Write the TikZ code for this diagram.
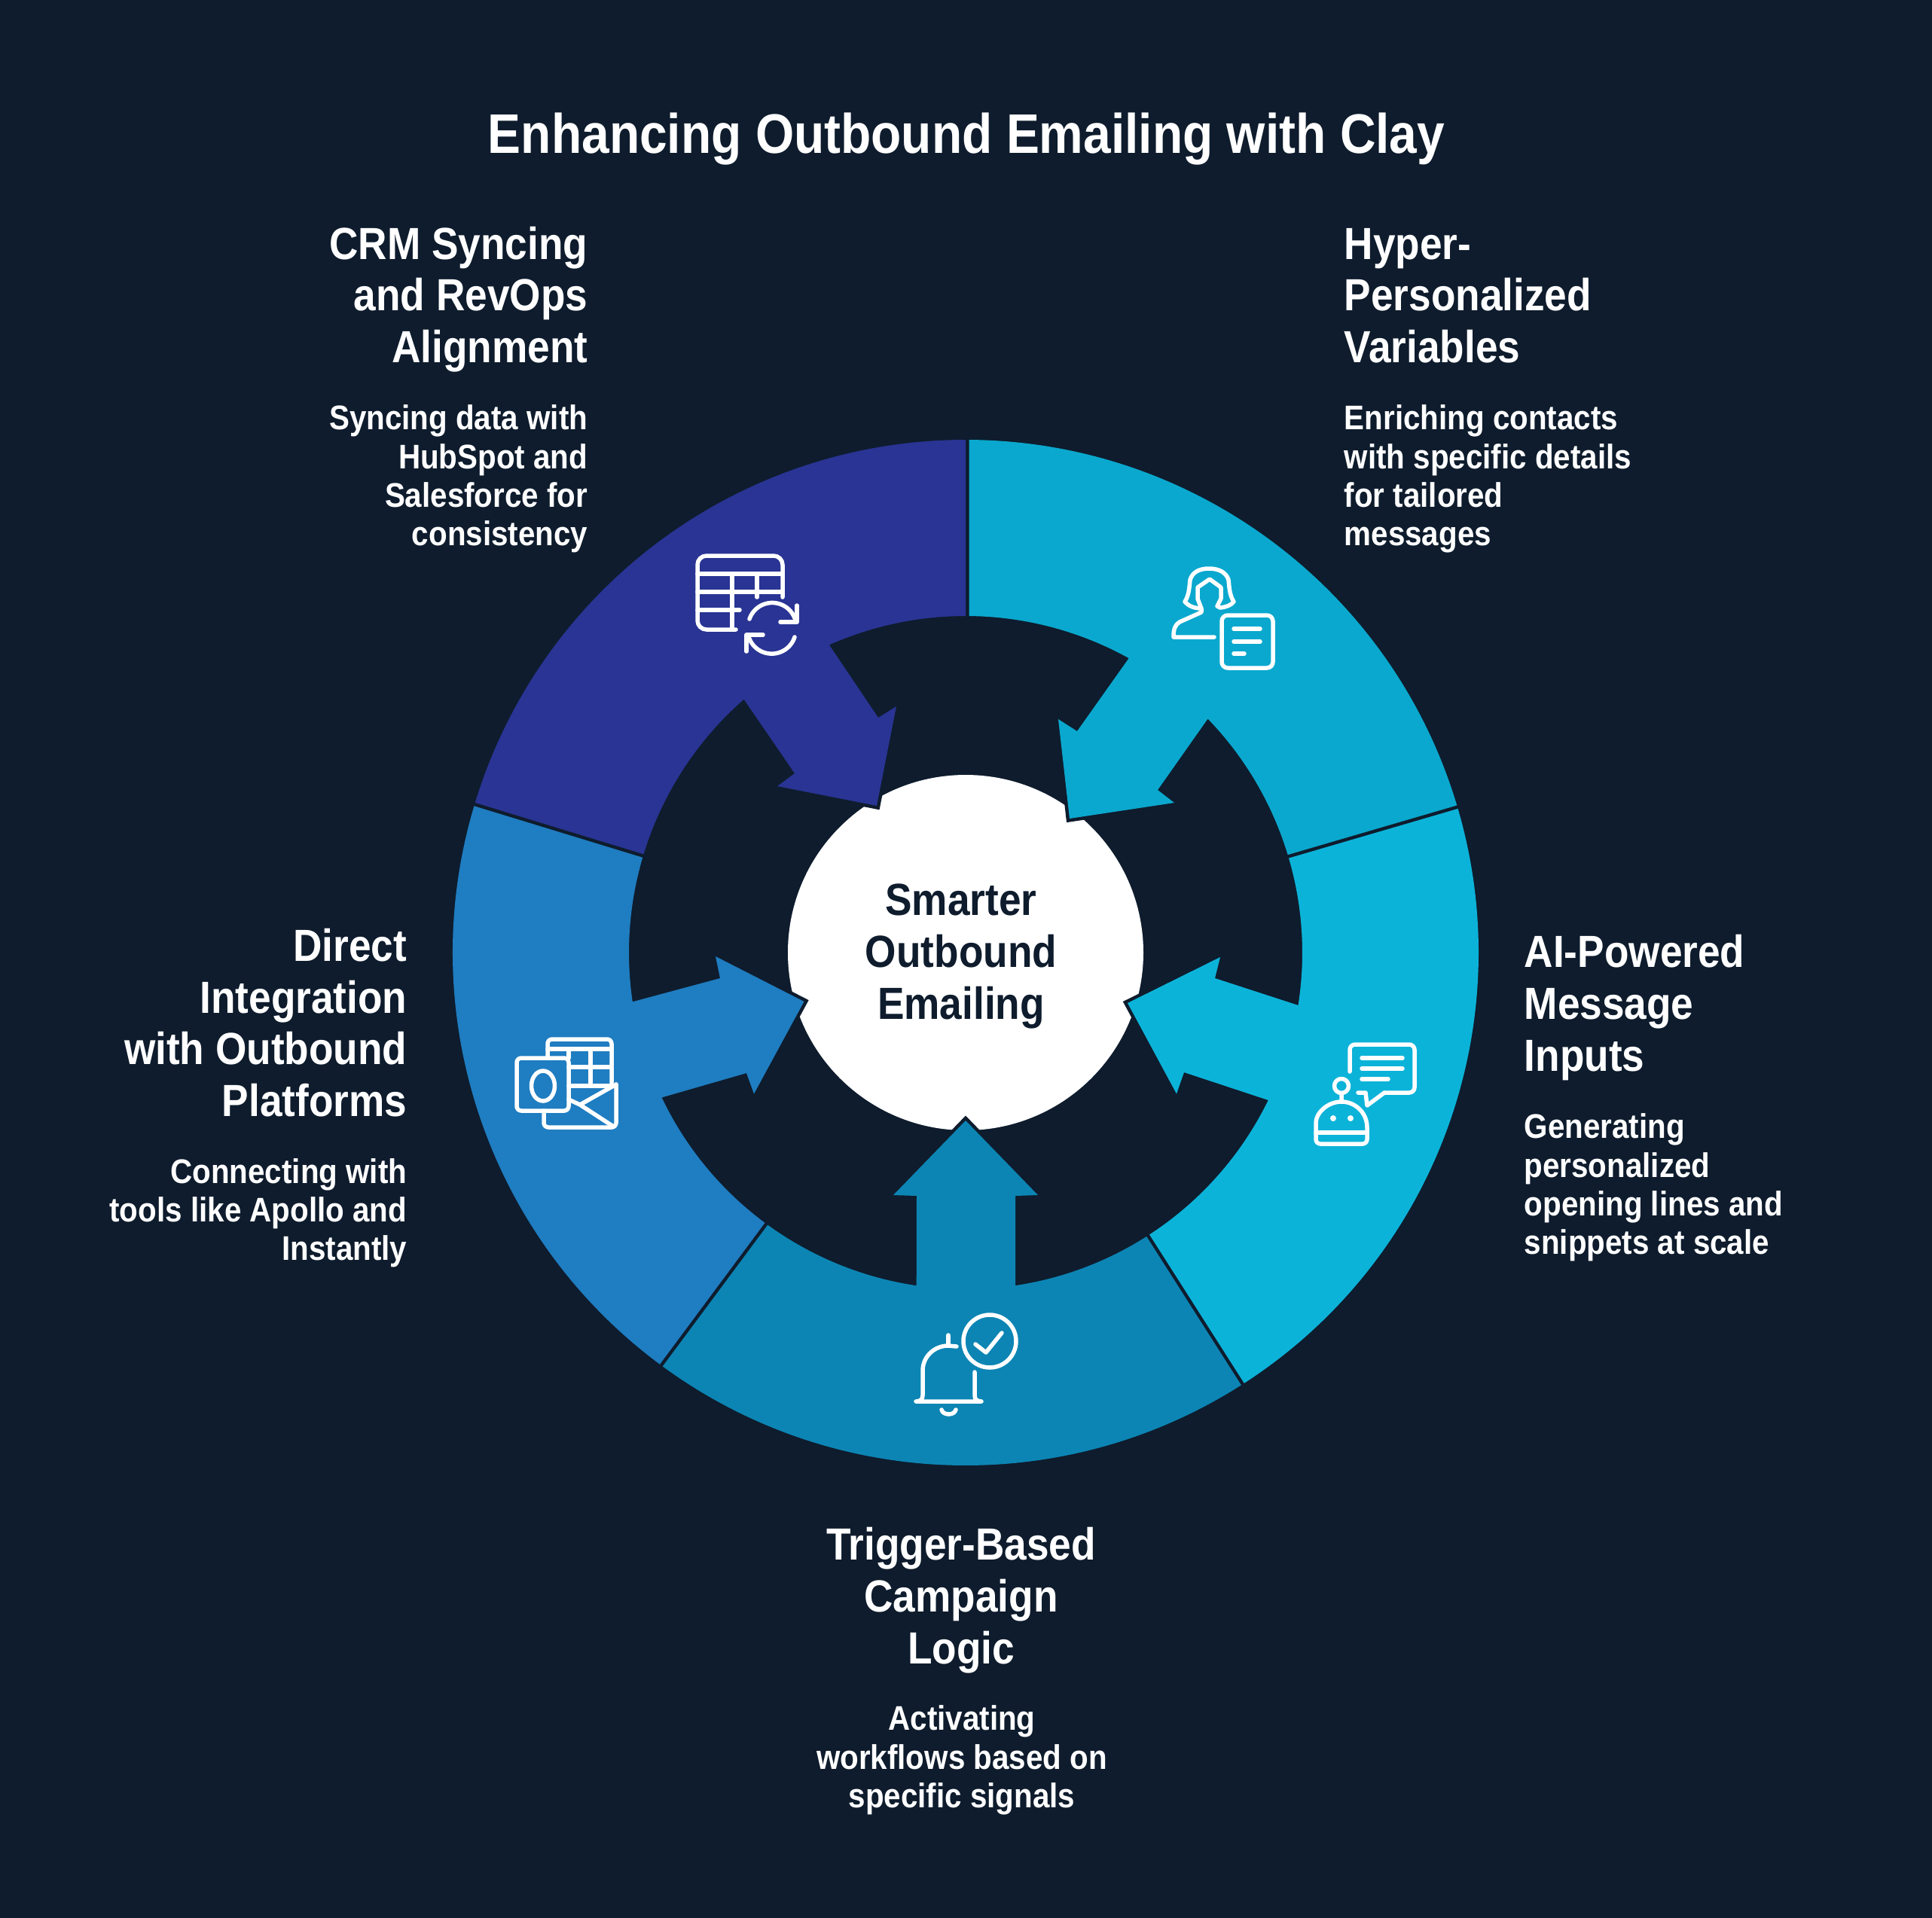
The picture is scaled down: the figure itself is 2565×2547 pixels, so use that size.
\documentclass[tikz,border=0pt]{standalone}
\usepackage{fontspec}
\setmainfont{Liberation Sans}[FakeStretch=0.89]
\definecolor{bgcol}{RGB}{14,28,45}
\definecolor{segsky}{RGB}{10,168,206}
\definecolor{segcyan}{RGB}{12,179,217}
\definecolor{segteal}{RGB}{12,133,180}
\definecolor{segblue}{RGB}{31,125,193}
\definecolor{segnavy}{RGB}{41,52,148}

\begin{document}
\begin{tikzpicture}[x=0.01cm, y=-0.01cm,
    seg/.style = {preaction={draw=bgcol,line width=0.09cm}},
    icon/.style = {draw=white,line width=0.055cm,line cap=round,line join=round},
    title/.style = {white,inner sep=0,font=\fontsize{21.05}{26}\selectfont\bfseries},
    head/.style = {white,inner sep=0,font=\fontsize{17}{19.55}\selectfont\bfseries},
    desc/.style = {white,inner sep=0,font=\fontsize{12.9}{14.57}\selectfont\bfseries},
    hub/.style = {circle,fill=white,inner sep=0,minimum size=0.01cm*472}]
    \fill[bgcol] (0,0) rectangle (2565,2547);
    \node[title] (title) at (1283,185) {Enhancing Outbound Emailing with Clay};

    \node[hub] (hub) at (1282,1265) {};

    \begin{scope}[shift={(1282,1265)}]
        \fill[seg,segsky] (-90:681) arc[start angle=-90,end angle=-16.3,radius=681]
            -- (-16.3:447) arc[start angle=-16.3,end angle=-44,radius=447]
            -- (255,-216) -- (277,-199) -- (138,-178) -- (123,-310) -- (148,-294)
            -- (-61:447) arc[start angle=-61,end angle=-90,radius=447] -- cycle;
        \fill[seg,segcyan] (-16.3:681) arc[start angle=-16.3,end angle=57.5,radius=681]
            -- (57.5:447) arc[start angle=57.5,end angle=26,radius=447]
            -- (290,159) -- (280,187.5) -- (215,67) -- (338,6) -- (331,34)
            -- (9:447) arc[start angle=9,end angle=-16.3,radius=447] -- cycle;
        \fill[seg,segteal] (57.5:681) arc[start angle=57.5,end angle=126.6,radius=681]
            -- (126.6:447) arc[start angle=126.6,end angle=98.4,radius=447]
            -- (-65,323) -- (-96,322) -- (0,223) -- (96,322) -- (66,323)
            -- (81.5:447) arc[start angle=81.5,end angle=57.5,radius=447] -- cycle;
        \fill[seg,segblue] (126.6:681) arc[start angle=126.6,end angle=197,radius=681]
            -- (197:447) arc[start angle=197,end angle=171.6,radius=447]
            -- (-326,34) -- (-332,5) -- (-214.5,65) -- (-281,187.5) -- (-291,160)
            -- (154.5:447) arc[start angle=154.5,end angle=126.6,radius=447] -- cycle;
        \fill[seg,segnavy] (197:681) arc[start angle=197,end angle=270,radius=681]
            -- (270:447) arc[start angle=270,end angle=246.1,radius=447]
            -- (-116,-312) -- (-92,-327) -- (-118,-195) -- (-250,-221) -- (-227,-238)
            -- (228.8:447) arc[start angle=228.8,end angle=197,radius=447] -- cycle;
    \end{scope}

    \node[head,text=bgcol,align=center] (hubtext) at (1276,1270) {Smarter\\Outbound\\Emailing};

    \node[head,anchor=east,align=right] (crmhead) at (781,397.6) {CRM Syncing\\and RevOps\\Alignment};
    \node[desc,anchor=east,align=right] (crmdesc) at (781,636) {Syncing data with\\HubSpot and\\Salesforce for\\consistency};
    \node[head,anchor=west,align=left] (hyperhead) at (1784,392.6) {Hyper-\\Personalized\\Variables};
    \node[desc,anchor=west,align=left] (hyperdesc) at (1784,636) {Enriching contacts\\with specific details\\for tailored\\messages};
    \node[head,anchor=west,align=left] (aihead) at (2023,1338) {AI-Powered\\Message\\Inputs};
    \node[desc,anchor=west,align=left] (aidesc) at (2023,1577) {Generating\\personalized\\opening lines and\\snippets at scale};
    \node[head,align=center] (triggerhead) at (1276,2125) {Trigger-Based\\Campaign\\Logic};
    \node[desc,align=center] (triggerdesc) at (1277,2337.5) {Activating\\workflows based on\\specific signals};
    \node[head,anchor=east,align=right] (directhead) at (541,1358) {Direct\\Integration\\with Outbound\\Platforms};
    \node[desc,anchor=east,align=right] (directdesc) at (541,1611) {Connecting with\\tools like Apollo and\\Instantly};

    % table with refresh arrows
    \draw[icon,rounded corners=0.12cm] (1039,793) -- (1039,738) -- (926,738) -- (926,836) -- (977,836);
    \draw[icon] (926,762) -- (1039,762) (926,786) -- (1039,786) (926,810) -- (982,810);
    \draw[icon] (972,762) -- (972,836) (1005,762) -- (1005,793);
    \draw[icon] (995,822) arc[start angle=199,end angle=348,radius=32];
    \draw[icon] (1058,804) -- (1058,826) -- (1036,826);
    \draw[icon] (1055,846) arc[start angle=18,end angle=159,radius=32];
    \draw[icon] (991,865) -- (991,843) -- (1013,843);

    % person with document
    \draw[icon] (1612,846) -- (1558,846) .. controls (1558,835) and (1560,830) .. (1566,826)
        -- (1595,813) -- (1595,808) -- (1590,795) -- (1590,780) -- (1606,769) -- (1621,780)
        -- (1621,795) -- (1616,805) -- (1620,807) .. controls (1628,806) and (1634,804) .. (1638,799)
        .. controls (1632,790) and (1632,778) .. (1631,770)
        .. controls (1628,760) and (1618,755) .. (1605,755)
        .. controls (1592,755) and (1583,760) .. (1580,770)
        .. controls (1579,778) and (1579,790) .. (1573,799)
        .. controls (1577,804) and (1585,808) .. (1595,808);
    \draw[icon,rounded corners=0.08cm] (1622,817) rectangle (1690,887);
    \draw[icon] (1638,835) -- (1673,835) (1638,852) -- (1673,852) (1638,868) -- (1652,868);

    % robot with speech bubble
    \draw[icon,rounded corners=0.07cm] (1792,1423) -- (1792,1387) -- (1878,1387) -- (1878,1451) -- (1838,1451);
    \draw[icon] (1838,1451) -- (1815,1468) -- (1813,1451) -- (1803,1451);
    \draw[icon] (1808,1405) -- (1862,1405) (1808,1419) -- (1862,1419) (1808,1433) -- (1843,1433);
    \draw[icon] (1781,1442) circle[radius=9.5] (1781,1452) -- (1781,1463);
    \draw[icon] (1747,1497) arc[start angle=180,end angle=360,radius=34] [rounded corners=0.06cm] -- (1815,1519) -- (1747,1519) -- cycle;
    \draw[icon] (1747,1504) -- (1815,1504);
    \fill[white] (1770,1485) circle[radius=4] (1793,1485) circle[radius=4];

    % bell with check mark
    \draw[icon] (1314,1781) circle[radius=35];
    \draw[icon] (1295,1785) -- (1309,1796) -- (1330,1770);
    \draw[icon] (1259,1773) -- (1259,1787);
    \draw[icon] (1270,1788) -- (1259,1787) .. controls (1240,1787) and (1225,1802) .. (1225,1820)
        -- (1225,1853) .. controls (1225,1858) and (1222,1861) .. (1216,1861) -- (1303,1861)
        .. controls (1297,1861) and (1294,1858) .. (1294,1853) -- (1294,1822);
    \draw[icon] (1250,1872) .. controls (1252,1880) and (1267,1880) .. (1269,1872);

    % mail client
    \draw[icon,rounded corners=0.06cm] (727,1405) -- (727,1380) -- (812,1380) -- (812,1438);
    \draw[icon] (727,1393) -- (812,1393) (755,1393) -- (755,1405) (784,1393) -- (784,1442) (755,1417) -- (812,1417);
    \draw[icon,rounded corners=0.06cm] (686,1405) rectangle (755,1475);
    \draw[icon] (721,1442) ellipse[x radius=15.5,y radius=20];
    \draw[icon] (755,1442) -- (818,1442);
    \draw[icon,rounded corners=0.06cm] (818,1440) -- (818,1497) -- (722,1497) -- (722,1475);
    \draw[icon] (818,1440) -- (770,1467) -- (813,1495) (770,1467) -- (755,1460);
\end{tikzpicture}
\end{document}
